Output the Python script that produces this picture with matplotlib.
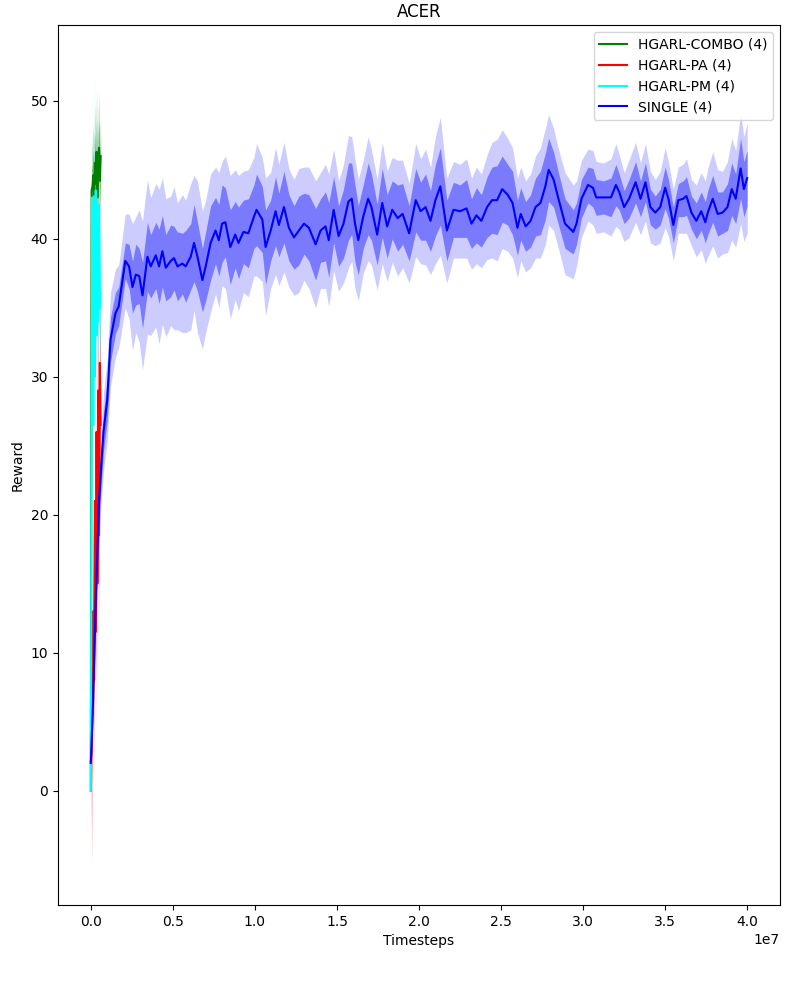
import matplotlib
matplotlib.use('Agg')
import matplotlib.pyplot as plt
import numpy as np

# SINGLE (4) run: timesteps in millions, mean reward and band half-widths
single_t = [0, 0.14, 0.3, 0.5, 0.77, 1.0, 1.2, 1.5, 1.7, 2.1,
            2.33, 2.54, 2.74, 2.95, 3.15, 3.45, 3.65, 3.96, 4.16, 4.36,
            4.57, 4.87, 5.07, 5.28, 5.58, 5.78, 6.09, 6.29, 6.5, 6.8,
            7.0, 7.3, 7.6, 7.8, 8.0, 8.2, 8.5, 8.8, 9.0, 9.3,
            9.6, 9.94, 10.1, 10.45, 10.65, 10.96, 11.26, 11.46, 11.77, 12.07,
            12.38, 12.68, 12.99, 13.29, 13.7, 14.0, 14.3, 14.5, 14.8, 15.1,
            15.4, 15.7, 15.9, 16.1, 16.3, 16.6, 16.9, 17.1, 17.45, 17.76,
            18.06, 18.37, 18.7, 19.0, 19.4, 19.8, 20.1, 20.4, 20.7, 21.0,
            21.3, 21.7, 22.1, 22.5, 22.9, 23.2, 23.5, 23.8, 24.15, 24.45,
            24.76, 25.07, 25.4, 25.7, 26.0, 26.2, 26.5, 26.8, 27.1, 27.4,
            27.7, 27.9, 28.2, 28.5, 28.9, 29.4, 29.6, 29.9, 30.3, 30.6,
            30.8, 31.25, 31.7, 32.0, 32.2, 32.5, 32.8, 33.2, 33.5, 33.8,
            34.1, 34.4, 34.7, 35.0, 35.2, 35.5, 35.8, 36.1, 36.3, 36.6,
            36.9, 37.2, 37.45, 37.6, 37.9, 38.2, 38.5, 38.8, 39.06, 39.3,
            39.6, 39.8, 40.0]
single_mean = [2.0, 6.6, 13.8, 21.0, 26.0, 28.3, 32.7, 34.6, 35.1, 38.4,
               38.0, 36.5, 37.4, 37.3, 35.9, 38.7, 38.0, 38.8, 38.0, 39.1,
               37.9, 38.4, 38.6, 38.0, 38.2, 38.0, 38.7, 39.7, 38.7, 37.0,
               38.0, 39.7, 40.6, 39.9, 41.1, 41.2, 39.4, 40.3, 39.7, 40.5,
               40.4, 41.6, 42.1, 41.4, 39.4, 40.6, 42.0, 41.0, 42.3, 40.8,
               40.1, 40.6, 41.1, 40.8, 39.6, 40.6, 40.9, 39.9, 42.1, 40.2,
               41.1, 42.7, 42.9, 41.1, 39.9, 41.6, 42.9, 42.3, 40.3, 42.6,
               40.9, 42.1, 41.5, 41.8, 40.4, 42.8, 42.0, 42.3, 41.3, 42.8,
               43.8, 40.6, 42.1, 42.0, 42.2, 41.1, 41.7, 41.3, 42.3, 42.8,
               42.8, 43.6, 43.2, 42.6, 40.8, 41.8, 40.9, 41.3, 42.3, 42.6,
               43.8, 45.0, 44.3, 42.9, 41.1, 40.5, 41.1, 42.9, 43.9, 43.7,
               43.0, 43.0, 43.0, 43.9, 43.4, 42.3, 42.9, 44.1, 42.9, 44.1,
               42.3, 41.9, 42.3, 43.7, 42.9, 41.0, 42.8, 42.9, 43.1, 41.9,
               41.3, 42.0, 41.2, 41.9, 42.9, 41.8, 41.9, 42.3, 43.6, 42.9,
               45.1, 43.6, 44.4]
single_inner = [0.3, 0.6, 1.0, 1.2, 1.4, 1.5, 1.6, 1.5, 1.4, 1.3,
                1.6, 1.9, 2.2, 2.0, 2.4, 2.5, 2.3, 2.4, 2.7, 2.6,
                2.4, 2.6, 2.3, 2.5, 2.2, 2.6, 2.4, 2.8, 2.5, 2.3,
                2.5, 2.7, 2.4, 2.6, 2.8, 2.5, 2.7, 2.4, 2.6, 2.3,
                2.5, 2.3, 2.6, 2.4, 2.7, 2.2, 2.5, 2.3, 2.6, 2.4,
                2.3, 2.5, 2.2, 2.4, 2.6, 2.3, 2.5, 2.7, 2.4, 2.2,
                2.5, 2.8, 2.6, 2.8, 2.5, 2.3, 2.6, 2.4, 2.2, 2.5,
                2.3, 2.1, 2.4, 2.2, 2.0, 2.3, 2.1, 2.4, 2.2, 2.6,
                2.8, 2.2, 2.0, 1.9, 2.1, 1.8, 2.0, 1.9, 2.2, 2.4,
                2.5, 2.4, 2.2, 2.3, 2.0, 1.9, 1.8, 1.9, 2.1, 2.3,
                2.4, 2.3, 2.0, 1.9, 1.8, 1.6, 1.5, 1.4, 1.3, 1.4,
                1.3, 1.2, 1.4, 1.5, 1.3, 1.2, 1.4, 1.5, 1.3, 1.4,
                1.3, 1.2, 1.3, 1.5, 1.4, 1.3, 1.2, 1.3, 1.4, 1.2,
                1.3, 1.4, 1.5, 1.6, 1.7, 1.6, 1.5, 1.7, 1.9, 1.8,
                2.2, 2.0, 2.0]
single_outer = [0.6, 1.2, 2.0, 2.4, 2.8, 3.0, 3.4, 3.2, 3.0, 3.4,
                3.8, 4.6, 4.2, 4.8, 5.4, 5.6, 5.0, 5.2, 5.6, 5.3,
                5.0, 4.7, 5.2, 4.6, 5.0, 4.8, 5.3, 4.9, 5.5, 5.0,
                4.8, 5.0, 4.6, 4.9, 4.5, 4.8, 5.2, 4.7, 4.9, 4.4,
                4.6, 4.3, 4.8, 4.5, 5.0, 4.2, 4.6, 4.4, 4.7, 4.3,
                4.2, 4.5, 4.1, 4.4, 4.6, 4.2, 4.5, 4.8, 4.4, 4.0,
                4.3, 4.8, 4.5, 4.7, 4.4, 4.1, 4.5, 4.2, 4.0, 4.4,
                4.0, 3.8, 4.2, 3.9, 3.6, 4.1, 3.8, 4.2, 3.9, 4.6,
                5.0, 3.8, 3.5, 3.4, 3.6, 3.3, 3.5, 3.4, 3.8, 4.2,
                4.4, 4.3, 4.1, 4.0, 3.6, 3.4, 3.3, 3.4, 3.7, 4.0,
                4.2, 4.0, 3.7, 3.6, 3.7, 3.4, 3.1, 2.8, 2.6, 2.7,
                2.6, 2.5, 2.8, 3.0, 2.7, 2.5, 2.8, 2.9, 2.6, 2.8,
                2.6, 2.4, 2.6, 2.9, 2.7, 2.6, 2.4, 2.5, 2.7, 2.4,
                2.6, 2.8, 3.0, 3.2, 3.4, 3.2, 3.0, 3.3, 3.7, 3.5,
                4.0, 3.8, 4.0]

# HGARL runs (short, first 0.6M steps)
hgarl_t = [0, 0.05, 0.1, 0.15, 0.2, 0.25, 0.3, 0.35, 0.4, 0.45, 0.5, 0.55, 0.6]
combo_mean = [0.0, 43.5, 43.8, 44.6, 43.2, 45.5, 44.0, 46.3, 43.0, 45.8, 46.6, 44.2, 46.0]
combo_inner = [0.5, 1.5, 1.6, 1.8, 2.0, 2.2, 1.9, 2.4, 2.1, 1.8, 2.0, 1.7, 1.5]
combo_outer = [1.0, 3.0, 3.4, 3.5, 4.0, 4.4, 3.8, 4.6, 4.2, 3.5, 3.8, 3.2, 3.0]
pa_mean = [2.0, 3.0, 6.0, 13.0, 8.0, 21.0, 11.5, 26.0, 15.0, 29.0, 18.5, 31.0, 26.5]
pa_inner = [1.0, 2.5, 3.0, 3.5, 3.0, 4.0, 3.5, 4.5, 4.0, 4.5, 4.0, 3.5, 3.0]
pa_outer = [2.5, 8.4, 7.0, 7.5, 6.5, 8.0, 7.0, 9.0, 8.0, 9.5, 8.5, 7.5, 6.0]
pm_mean = [0.0, 28.0, 43.0, 26.5, 42.5, 30.0, 43.5, 33.0, 41.5, 34.0, 42.5, 35.0, 36.0]
pm_inner = [0.5, 3.0, 3.5, 3.0, 4.5, 3.5, 3.0, 3.5, 3.0, 3.0, 2.5, 3.0, 2.5]
pm_outer = [1.0, 6.0, 7.0, 6.0, 10.1, 7.0, 6.0, 6.5, 6.0, 6.0, 5.5, 5.5, 5.0]

runs = [
    ('HGARL-COMBO (4)', 'green', hgarl_t, combo_mean, combo_inner, combo_outer),
    ('HGARL-PA (4)', 'red', hgarl_t, pa_mean, pa_inner, pa_outer),
    ('HGARL-PM (4)', 'cyan', hgarl_t, pm_mean, pm_inner, pm_outer),
    ('SINGLE (4)', 'blue', single_t, single_mean, single_inner, single_outer),
]

fig, ax = plt.subplots(figsize=(8, 10), dpi=100)
for label, color, t, mean, inner, outer in runs:
    x = np.array(t) * 1e6
    m = np.array(mean)
    ax.fill_between(x, m - np.array(outer), m + np.array(outer), color=color, alpha=0.2, linewidth=0)
    ax.fill_between(x, m - np.array(inner), m + np.array(inner), color=color, alpha=0.4, linewidth=0)
    ax.plot(x, m, color=color, label=label)

ax.set_title('ACER')
ax.set_xlabel('Timesteps')
ax.set_ylabel('Reward')
ax.legend(loc='upper right')
fig.subplots_adjust(left=0.0725, right=0.975, top=0.975, bottom=0.095)
plt.savefig('out.png')
